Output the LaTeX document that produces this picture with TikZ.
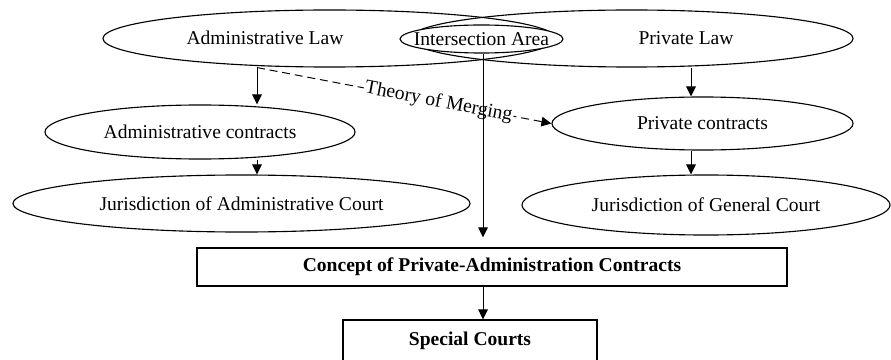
\documentclass[tikz,border=0pt]{standalone}
\usepackage{fontspec}
\setmainfont{Liberation Serif}
\usetikzlibrary{shapes.geometric,arrows.meta,positioning,calc}

\begin{document}
\begin{tikzpicture}[x=0.025cm,y=-0.025cm,
  font=\fontsize{13.9pt}{16pt}\selectfont,
  oval/.style={ellipse,draw,line width=0.8pt,inner sep=0pt},
  frame/.style={rectangle,draw,line width=0.9pt,inner sep=0pt,
                font=\fontsize{13.9pt}{16pt}\selectfont\bfseries},
  arr/.style={-{Triangle[length=0.25cm,width=0.24cm]},line width=0.7pt}]
\useasboundingbox (0,0) rectangle (891,360);
% top row: the two fields of law and their overlap
\node[oval,minimum width=11.325cm,minimum height=1.425cm] (admlaw) at (329.5,38.5) {};
\node[oval,minimum width=11.075cm,minimum height=1.425cm] (privlaw) at (631.5,38.5) {};
\node (admlawtxt) at (265,38) {Administrative Law};
\node (privlawtxt) at (686,38) {Private Law};
\node[oval,fill=white,minimum width=4.075cm,minimum height=0.7cm,
      label={center:Intersection Area}] (isect) at (481.5,39) {};
% contracts and courts
\node[oval,minimum width=7.75cm,minimum height=1.35cm] (admcon) at (200,132) {Administrative contracts};
\node[oval,minimum width=7.525cm,minimum height=1.325cm] (privcon) at (702.5,123.5) {Private contracts};
\node[oval,minimum width=11.425cm,minimum height=1.425cm] (admcourt) at (241.5,203.5) {Jurisdiction of Administrative Court};
\node[oval,minimum width=9.2cm,minimum height=1.5cm] (gencourt) at (706,205) {Jurisdiction of General Court};
% bottom boxes
\node[frame,minimum width=14.75cm,minimum height=0.95cm] (concept) at (492,267) {Concept of Private-Administration Contracts};
\node[frame,minimum width=6.35cm,minimum height=1.05cm] (special) at (470,341) {Special Courts};
% arrow columns
\coordinate (colA) at (257,0);
\coordinate (colB) at (691,0);
\coordinate (colC) at (483,0);
\draw[arr] (admlaw.south -| colA) -- (admcon.north -| colA);
\draw[arr] (admcon.south -| colA) -- (admcourt.north -| colA);
\draw[arr] (privlaw.south -| colB) -- (privcon.north -| colB);
\draw[arr] (privcon.south -| colB) -- (gencourt.north -| colB);
\draw[arr,dash pattern=on 0.2cm off 0.12cm] (admlaw.south -| colA) --
  node[sloped,pos=0.617,fill=white,inner sep=1pt] (merge) {Theory of Merging} (privcon.west);
\draw[arr,shorten >=0.25cm] (isect.south -| colC) -- (concept.north -| colC);
\draw[arr] (concept.south -| colC) -- (special.north -| colC);
\end{tikzpicture}
\end{document}
